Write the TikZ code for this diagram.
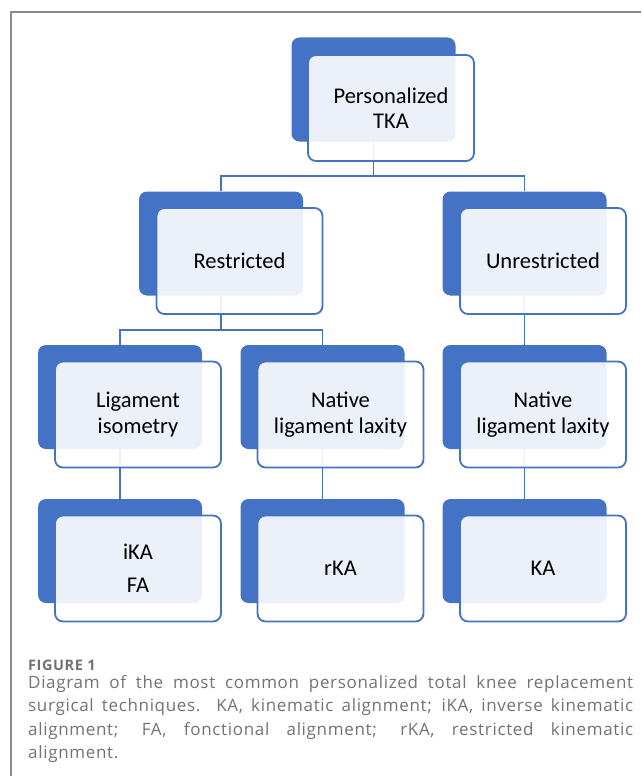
\documentclass[tikz,border=0pt]{standalone}
\usepackage{fontspec}
\setmainfont{Carlito}
\newfontfamily\captionfont[LetterSpace=4]{Open Sans}
\usetikzlibrary{positioning}
\definecolor{boxblue}{HTML}{4472C4}
\definecolor{capgray}{HTML}{727272}
\definecolor{framegray}{HTML}{8A8A8A}
\pgfdeclarelayer{wires}
\pgfsetlayers{wires,main}
\setlength{\parindent}{0pt}

\begin{document}
\begin{tikzpicture}[x=1pt, y=-1pt,
	backbox/.style={rectangle, rounded corners=8pt, fill=boxblue, minimum width=164pt, minimum height=104pt, inner sep=0pt},
	frontbox/.style={rectangle, rounded corners=8pt, draw=boxblue, line width=1.8pt, fill=white, fill opacity=0.9, text opacity=1, minimum width=166pt, minimum height=106pt, inner sep=0pt, align=center, font=\fontsize{22.5}{25.5}\selectfont},
	wire/.style={draw=boxblue, line width=1.8pt}]
	\useasboundingbox (0, 0) rectangle (641, 776);
	% Frame:
	\draw[framegray, line width=1.5pt] (11, 776) -- (11, 12) -- (641, 12);
	% Back boxes:
	\node[backbox] (tka) at (373.5, 89.5){};
	\node[backbox] (restr) at (221, 243.5){};
	\node[backbox] (unrestr) at (524.5, 243.5){};
	\node[backbox] (iso) at (120, 397){};
	\node[backbox] (laxr) at (322.5, 397){};
	\node[backbox] (laxu) at (524.5, 397){};
	\node[backbox] (ika) at (120, 551){};
	\node[backbox] (rka) at (322.5, 551){};
	\node[backbox] (ka) at (524.5, 551){};
	% Front boxes with labels:
	\node[frontbox] (tkaf) at (391, 108){Personalized\\TKA};
	\node[frontbox] (restrf) at (239.5, 261){Restricted};
	\node[frontbox] (unrestrf) at (543, 261){Unrestricted};
	\node[frontbox] (isof) at (138, 414.5){Ligament\\isometry};
	\node[frontbox] (laxrf) at (340.5, 414.5){Native\\ligament laxity};
	\node[frontbox] (laxuf) at (543, 414.5){Native\\ligament laxity};
	\node[frontbox] (ikaf) at (138, 568.5){iKA\\[8pt]FA};
	\node[frontbox] (rkaf) at (340.5, 568.5){rKA};
	\node[frontbox] (kaf) at (543, 568.5){KA};
	% Wires:
	\begin{pgfonlayer}{wires}
		\draw[wire] (tka.south) -- ++(0, 34) -| (restr.north);
		\draw[wire] (tka.south) -- ++(0, 34) -| (unrestr.north);
		\draw[wire] (restr.south) -- ++(0, 34) -| (iso.north);
		\draw[wire] (restr.south) -- ++(0, 34) -| (laxr.north);
		\draw[wire] (unrestr.south) -- (laxu.north);
		\draw[wire] (iso.south) -- (ika.north);
		\draw[wire] (laxr.south) -- (rka.north);
		\draw[wire] (laxu.south) -- (ka.north);
	\end{pgfonlayer}
	% Caption:
	\node[anchor=base west, inner sep=0pt, font=\captionfont\bfseries\fontsize{14.5}{16}\selectfont, text=capgray] (fignum) at (28, 670){FIGURE 1};
	\node[anchor=north west, inner sep=0pt, text width=605pt, align=justify, font=\captionfont\fontsize{17}{23.5}\selectfont, text=capgray] (captext) at (28, 675){Diagram of the most common personalized total knee replacement\linebreak surgical techniques. KA, kinematic alignment; iKA, inverse kinematic\linebreak alignment; FA, fonctional alignment; rKA, restricted kinematic\linebreak alignment.};
\end{tikzpicture}
\end{document}
